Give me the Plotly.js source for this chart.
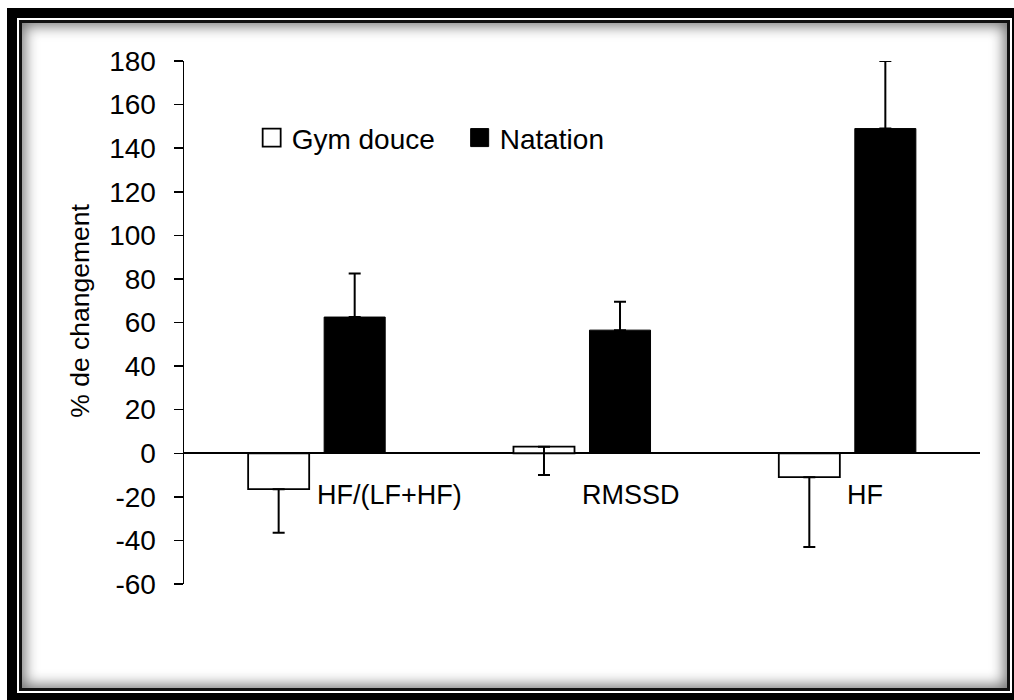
<!DOCTYPE html>
<html>
<head>
<meta charset="utf-8">
<script src="https://cdn.plot.ly/plotly-3.0.1.min.js"></script>
<style>
  html, body { margin: 0; padding: 0; background: #ffffff; overflow: hidden; }
  #outer { position: absolute; left: 7px; top: 8px; width: 1015px; height: 695px; border: 10px solid #000; box-sizing: border-box; }
  #inner { position: absolute; left: 19px; top: 20px; width: 991px; height: 671px; border: 3px solid #111; box-sizing: border-box;
           box-shadow: inset 0 0 14px 3px rgba(0,0,0,0.55); background: #fff; }
  #chart { position: absolute; left: 0; top: 0; width: 1014px; height: 700px; }
</style>
</head>
<body>
<div id="outer"></div>
<div id="inner"></div>
<div id="chart"></div>
<script>
// Data
const categories = ["HF/(LF+HF)", "RMSSD", "HF"];
const gymValues = [-16.5, 3, -11];
const gymErrors = [20, 13, 32];
const natValues = [62.5, 56.5, 149];
const natErrors = [20, 13, 31];
const seriesNames = ["Gym douce", "Natation"];
const yTicks = [-60, -40, -20, 0, 20, 40, 60, 80, 100, 120, 140, 160, 180];
const zeros = [0, 0, 0];

const FONT = "Liberation Sans, Arial, sans-serif";

const traces = [
  {
    type: "bar", name: seriesNames[0], x: categories, y: gymValues,
    marker: { color: "#ffffff", line: { color: "#000000", width: 1.8 } },
    error_y: { type: "data", symmetric: false, array: zeros, arrayminus: gymErrors,
               color: "#000000", thickness: 2, width: 6 }
  },
  {
    type: "bar", name: seriesNames[1], x: categories, y: natValues,
    marker: { color: "#000000", line: { color: "#000000", width: 1 } },
    error_y: { type: "data", symmetric: false, array: natErrors, arrayminus: zeros,
               color: "#000000", thickness: 2, width: 6 }
  }
];

const annotations = categories.map(c => ({
  x: c, y: 0, xref: "x", yref: "y", text: c, showarrow: false,
  xanchor: "left", yanchor: "middle", yshift: -42, xshift: -2,
  font: { family: FONT, size: 27, color: "#000" }
}));
annotations.push({
  xref: "paper", yref: "paper", x: -0.131, y: 0.522, text: "% de changement",
  textangle: -90, showarrow: false, xanchor: "center", yanchor: "middle",
  font: { family: FONT, size: 26.5, color: "#000" }
});

const layout = {
  width: 1014, height: 700,
  margin: { l: 184, r: 34, t: 61, b: 116, pad: 0 },
  paper_bgcolor: "rgba(0,0,0,0)", plot_bgcolor: "rgba(0,0,0,0)",
  barmode: "group", bargap: 0.427, bargroupgap: 0.197,
  showlegend: true,
  legend: { orientation: "h", x: 0.085, y: 0.853, xanchor: "left", yanchor: "middle",
            font: { family: FONT, size: 28, color: "#000" }, bgcolor: "rgba(0,0,0,0)",
            entrywidth: 163, entrywidthmode: "pixels", traceorder: "normal" },
  xaxis: { type: "category", showticklabels: false, showline: false, showgrid: false,
           zeroline: false, ticks: "", fixedrange: true },
  yaxis: { range: [-60, 180], tickvals: yTicks, ticktext: yTicks.map(String),
           ticks: "outside", ticklen: 9, tickwidth: 1.5, tickcolor: "#000",
           showline: true, linecolor: "#000", linewidth: 1.5, showgrid: false,
           zeroline: true, zerolinecolor: "#000", zerolinewidth: 2,
           ticklabelstandoff: 12,
           tickfont: { family: FONT, size: 28, color: "#000" } },
  annotations: annotations
};

Plotly.newPlot("chart", traces, layout, { displayModeBar: false, staticPlot: true }).then(function () {
  // enlarge the legend squares to match the reference (keep existing transform)
  document.querySelectorAll("#chart .legendpoints path").forEach(function (p) {
    var t = p.getAttribute("transform") || "";
    p.setAttribute("transform", (t + " scale(1.5)").trim());
    p.style.vectorEffect = "non-scaling-stroke";
  });
});
</script>
</body>
</html>
